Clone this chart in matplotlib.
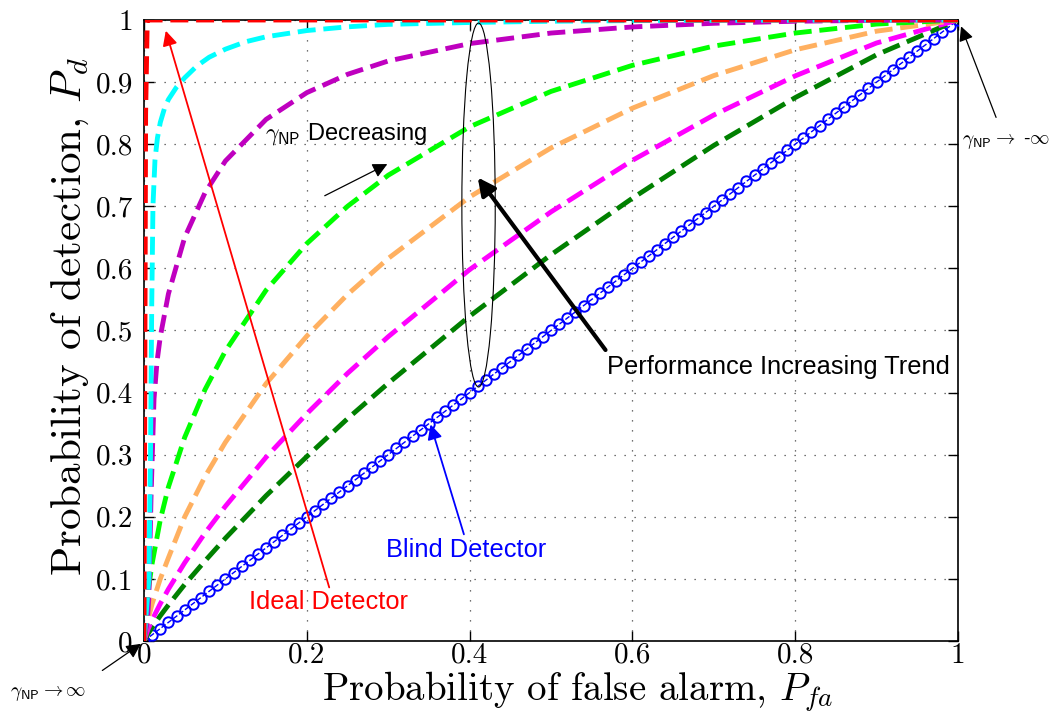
import numpy as np
import matplotlib
matplotlib.use("Agg")
import matplotlib.pyplot as plt
from matplotlib.patches import Ellipse
from matplotlib.ticker import FuncFormatter

plt.rcParams['mathtext.fontset'] = 'cm'
plt.rcParams['axes.unicode_minus'] = False

# ---------------- data ----------------
ideal_pfa = [0, 0.002, 0.004, 1.0]
ideal_pd = [0, 0.85, 1.0, 1.0]

cyan_pfa = [0, 0.006, 0.008, 0.0095, 0.011, 0.0135, 0.0165, 0.02, 0.025, 0.03, 0.04, 0.05, 0.065, 0.08,
            0.1, 0.125, 0.15, 0.2, 0.25, 0.3, 0.4, 0.5, 0.6, 0.8, 1.0]
cyan_pd = [0, 0.10, 0.30, 0.54, 0.70, 0.775, 0.81, 0.835, 0.857, 0.872, 0.892, 0.907, 0.926, 0.940,
           0.953, 0.965, 0.973, 0.983, 0.989, 0.993, 0.996, 0.998, 0.999, 0.9997, 1.0]

purple_pfa = [0, 0.004, 0.006, 0.0086, 0.0123, 0.016, 0.02, 0.03, 0.05, 0.075, 0.1, 0.15, 0.2, 0.25,
              0.3, 0.4, 0.5, 0.6, 0.7, 0.8, 0.9, 1.0]
purple_pd = [0, 0.03, 0.07, 0.23, 0.39, 0.45, 0.49, 0.559, 0.65, 0.722, 0.773, 0.84, 0.883, 0.9125,
             0.934, 0.962, 0.979, 0.9888, 0.9947, 0.998, 0.9995, 1.0]

green_pfa = [0, 0.003, 0.005, 0.01, 0.02, 0.03, 0.05, 0.075, 0.1, 0.15, 0.2, 0.25, 0.3, 0.4, 0.5,
             0.6, 0.7, 0.8, 0.9, 1.0]
green_pd = [0, 0.04, 0.08, 0.125, 0.195, 0.248, 0.328, 0.405, 0.467, 0.565, 0.64, 0.70, 0.75, 0.828,
            0.885, 0.927, 0.958, 0.979, 0.9935, 1.0]

orange_pfa = [0, 0.005, 0.01, 0.02, 0.03, 0.05, 0.075, 0.1, 0.15, 0.2, 0.25, 0.3, 0.4, 0.5, 0.6,
              0.7, 0.8, 0.9, 1.0]
orange_pd = [0, 0.035, 0.06, 0.10, 0.134, 0.20, 0.265, 0.32, 0.4145, 0.491, 0.558, 0.616, 0.715,
             0.794, 0.858, 0.9105, 0.952, 0.982, 1.0]

magenta_pfa = [0, 0.005, 0.01, 0.02, 0.03, 0.05, 0.075, 0.1, 0.15, 0.2, 0.25, 0.3, 0.4, 0.5, 0.6,
               0.7, 0.8, 0.9, 1.0]
magenta_pd = [0, 0.019, 0.034, 0.06, 0.0836, 0.126, 0.174, 0.217, 0.296, 0.366, 0.431, 0.49, 0.598,
              0.691, 0.774, 0.847, 0.910, 0.963, 1.0]

dgreen_pfa = [0, 0.005, 0.01, 0.02, 0.03, 0.05, 0.075, 0.1, 0.15, 0.2, 0.25, 0.3, 0.4, 0.5, 0.6,
              0.7, 0.8, 0.9, 1.0]
dgreen_pd = [0, 0.0117, 0.0219, 0.0406, 0.058, 0.091, 0.129, 0.1655, 0.234, 0.297, 0.358, 0.415,
             0.523, 0.622, 0.713, 0.798, 0.875, 0.944, 1.0]

blind_pfa = np.round(np.arange(0, 101) / 100.0, 2)
blind_pd = blind_pfa.copy()

x_ticks = [0, 0.2, 0.4, 0.6, 0.8, 1.0]
y_ticks = [0, 0.1, 0.2, 0.3, 0.4, 0.5, 0.6, 0.7, 0.8, 0.9, 1.0]

# ---------------- figure ----------------
W, H = 1058, 716
fig = plt.figure(figsize=(W / 100, H / 100), dpi=100)
ax = fig.add_axes([144 / W, 1 - 641 / H, (958 - 144) / W, (641 - 20) / H])

ax.plot(blind_pfa, blind_pd, '--o', color='blue', lw=1.0, ms=7.5, mfc='none', mew=1.4, zorder=3)
dash_kw = dict(ls='--', lw=3.5, zorder=4)
ax.plot(dgreen_pfa, dgreen_pd, color=(0, 0.5, 0), **dash_kw)
ax.plot(magenta_pfa, magenta_pd, color=(1, 0, 1), **dash_kw)
ax.plot(orange_pfa, orange_pd, color='#FFB060', **dash_kw)
ax.plot(green_pfa, green_pd, color=(0, 1, 0), **dash_kw)
ax.plot(purple_pfa, purple_pd, color=(0.75, 0, 0.75), **dash_kw)
ax.plot(cyan_pfa, cyan_pd, color=(0, 1, 1), **dash_kw)
ax.plot(ideal_pfa, ideal_pd, color=(1, 0, 0), **dash_kw)

ax.set_xlim(0, 1)
ax.set_ylim(0, 1)
ax.set_xticks(x_ticks)
ax.set_yticks(y_ticks)
fmt = FuncFormatter(lambda v, p: '0' if abs(v) < 1e-9 else ('1' if abs(v - 1) < 1e-9 else f'{v:.1f}'))
ax.xaxis.set_major_formatter(fmt)
ax.yaxis.set_major_formatter(fmt)
ax.tick_params(direction='in', length=7, width=1, top=True, right=True, labelsize=21, pad=8)
ax.tick_params(axis='x', pad=1)
for lab in ax.get_xticklabels() + ax.get_yticklabels():
    lab.set_fontfamily('cmr10')
ax.grid(True, ls=(0, (1, 7)), color='#444444', lw=0.9)
for s in ax.spines.values():
    s.set_linewidth(1.2)

fig.text(577.5 / W, 1 - 700 / H, 'Probability of false alarm, $P_{fa}$', fontsize=28, family='cmr10',
         ha='center', va='baseline')
fig.text(70 / W, 1 - 316 / H, 'Probability of detection, $P_d$', fontsize=31, family='cmr10',
         ha='center', va='center', rotation=90, rotation_mode='anchor')

sans = 'Liberation Sans'
tfs = 18.3

# ellipse
ax.add_patch(Ellipse((0.411, 0.702), 0.041, 0.586, fill=False, ec='black', lw=0.8, zorder=6))

# annotations
ax.annotate('', xy=(0.0258, 0.987), xytext=(0.2285, 0.082),
            arrowprops=dict(arrowstyle='-|>', color='red', lw=1.3, mutation_scale=22), zorder=7)
ax.text(0.227, 0.063, 'Ideal Detector', color='red', fontsize=tfs, family=sans, ha='center', va='center')

ax.annotate('', xy=(0.351, 0.353), xytext=(0.394, 0.1675),
            arrowprops=dict(arrowstyle='-|>', color='blue', lw=1.3, mutation_scale=22), zorder=7)
ax.text(0.396, 0.146, 'Blind Detector', color='blue', fontsize=tfs, family=sans, ha='center', va='center')

ax.annotate('', xy=(0.408, 0.750), xytext=(0.569, 0.465),
            arrowprops=dict(arrowstyle='-|>', color='black', lw=3.0, mutation_scale=26), zorder=7)
ax.text(0.569, 0.442, 'Performance Increasing Trend', color='black', fontsize=tfs, family=sans,
        ha='left', va='center')

ax.annotate('', xy=(0.302, 0.770), xytext=(0.219, 0.715),
            arrowprops=dict(arrowstyle='-|>', color='black', lw=0.9, mutation_scale=22), zorder=7)
ax.text(0.1486, 0.816, r'$\gamma_{\mathsf{NP}}$ Decreasing', color='black', fontsize=17, family=sans,
        ha='left', va='center')

ax.annotate('', xy=(1.0025, 0.994), xytext=(1.048, 0.839),
            arrowprops=dict(arrowstyle='-|>', color='black', lw=0.9, mutation_scale=22),
            annotation_clip=False, zorder=7)
ax.text(1.005, 0.805, r'$\gamma_{\mathsf{NP}}\rightarrow$ -$\infty$', color='black', fontsize=14,
        family=sans, ha='left', va='center', clip_on=False)

ax.annotate('', xy=(-0.001, -0.002), xytext=(-0.054, -0.05),
            arrowprops=dict(arrowstyle='-|>', color='black', lw=0.9, mutation_scale=22),
            annotation_clip=False, zorder=7)
ax.text(-0.165, -0.085, r'$\gamma_{\mathsf{NP}}\rightarrow\infty$', color='black', fontsize=14,
        family=sans, ha='left', va='center', clip_on=False)

fig.savefig('out.png', dpi=100)
